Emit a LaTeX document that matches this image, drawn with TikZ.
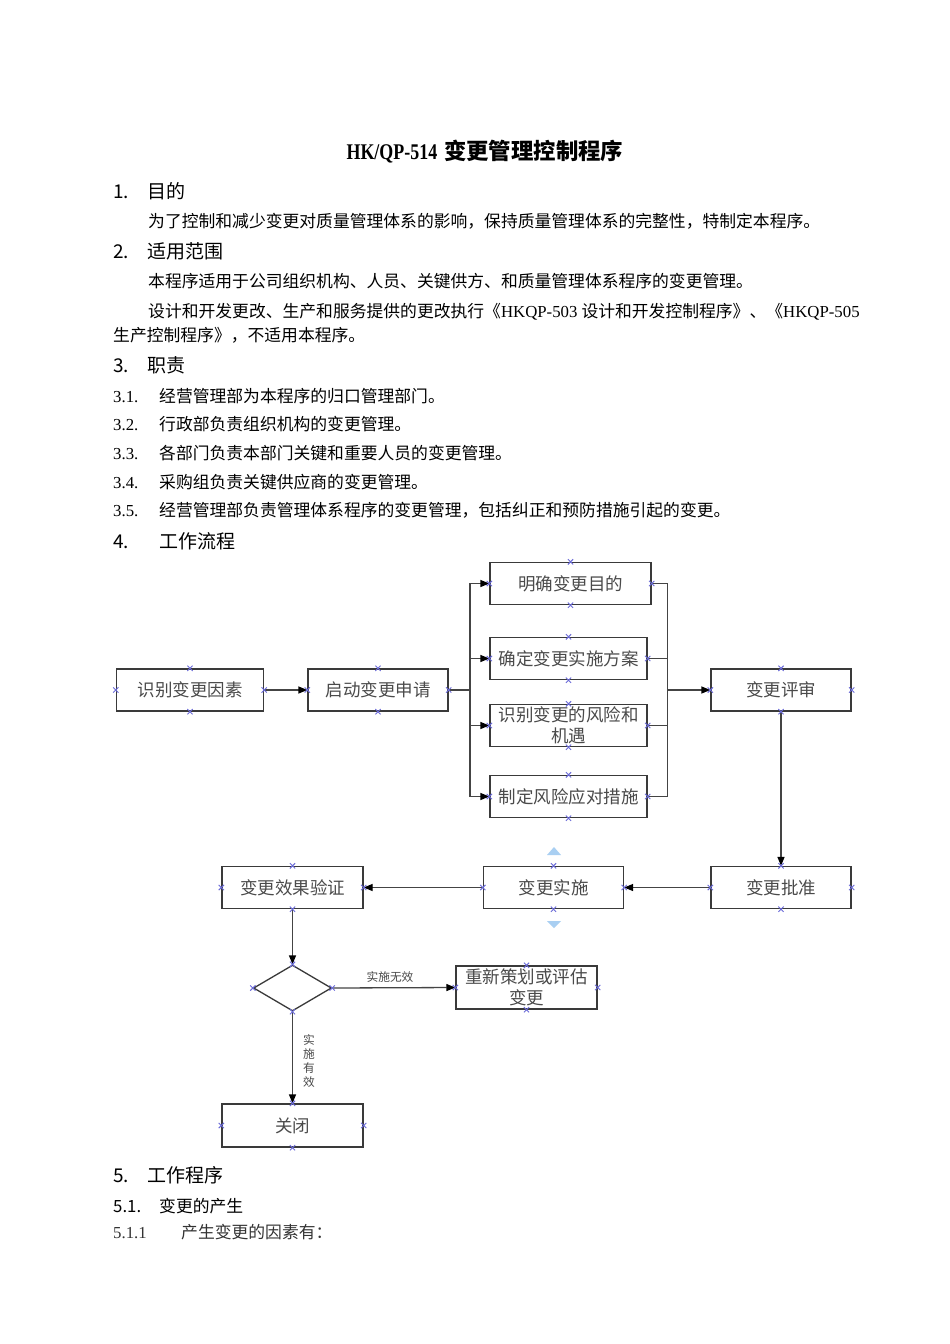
\documentclass[tikz,border=0pt]{standalone}
\usepackage{fontspec}
\setmainfont{Noto Sans CJK SC}
\newfontfamily\latserif{Liberation Serif}
\usetikzlibrary{arrows.meta,shapes.geometric}
\XeTeXlinebreaklocale "zh"
\XeTeXlinebreakskip=0pt plus 1fil
\definecolor{boxline}{HTML}{3A3A3A}
\definecolor{boxtext}{HTML}{4A4A4A}
\definecolor{xblue}{HTML}{6A6AD8}
\definecolor{triblue}{HTML}{A9CFF2}
\definecolor{conn}{HTML}{444444}
\tikzset{
  txt/.style={anchor=west, inner sep=0pt, text height=14pt, text depth=0pt,
    font=\fontsize{16.8}{20}\selectfont},
  hd/.style={anchor=west, inner sep=0pt, text height=16pt, text depth=0pt,
    font=\fontsize{19}{22}\selectfont},
  stepbox/.style={draw=boxline, line width=1.3pt, minimum height=42pt, inner sep=0pt,
    align=center, text=boxtext, font=\fontsize{17.5}{21}\selectfont},
  decis/.style={draw=boxline, line width=1.3pt, diamond, minimum width=78pt,
    minimum height=46pt, inner sep=0pt},
  conline/.style={draw=conn, line width=1.3pt},
  arr/.style={conline, -{Triangle[length=9pt,width=7pt,color=black]}},
  lbl/.style={inner sep=0pt, text=boxtext, font=\fontsize{11.7}{14}\selectfont, align=center},
  xmk/.style={draw=xblue, line width=0.9pt},
  tri/.style={fill=triblue, draw=none}
}
\begin{document}
\begin{tikzpicture}[x=1pt,y=-1pt]
\path[use as bounding box, fill=white] (0,0) rectangle (950,1344);

% ---- text ----
\node[inner sep=0pt, text height=18.8pt, text depth=0pt] (title) at (485,150) {\fontsize{22.4}{26}\selectfont\bfseries\scalebox{0.8}[1]{\latserif HK/QP-514}\hspace{7pt}变更管理控制程序};
\node[hd] (h1n) at (113,190) {1.};
\node[hd] (h1) at (147,190) {目的};
\node[txt] (p1) at (148,220) {为了控制和减少变更对质量管理体系的影响，保持质量管理体系的完整性，特制定本程序。};
\node[hd] (h2n) at (113,250) {2.};
\node[hd] (h2) at (147,250) {适用范围};
\node[txt] (p2) at (148,280) {本程序适用于公司组织机构、人员、关键供方、和质量管理体系程序的变更管理。};
\node[txt] (p3) at (148,310) {\makebox[710pt][s]{设计和开发更改、生产和服务提供的更改执行《{\latserif HKQP-503}\hspace{4pt}设计和开发控制程序》、《{\latserif HKQP-505}}};
\node[txt] (p4) at (113,334) {生产控制程序》，不适用本程序。};
\node[hd] (h3n) at (113,364) {3.};
\node[hd] (h3) at (147,364) {职责};
\node[txt] (r1n) at (113,395) {\latserif 3.1.};
\node[txt] (r1) at (159,395) {经营管理部为本程序的归口管理部门。};
\node[txt] (r2n) at (113,423) {\latserif 3.2.};
\node[txt] (r2) at (159,423) {行政部负责组织机构的变更管理。};
\node[txt] (r3n) at (113,452) {\latserif 3.3.};
\node[txt] (r3) at (159,452) {各部门负责本部门关键和重要人员的变更管理。};
\node[txt] (r4n) at (113,481) {\latserif 3.4.};
\node[txt] (r4) at (159,481) {采购组负责关键供应商的变更管理。};
\node[txt] (r5n) at (113,509) {\latserif 3.5.};
\node[txt] (r5) at (159,509) {经营管理部负责管理体系程序的变更管理，包括纠正和预防措施引起的变更。};
\node[hd] (h4n) at (113,540) {4.};
\node[hd] (h4) at (159,540) {工作流程};
\node[hd] (h5n) at (113,1174) {5.};
\node[hd] (h5) at (147,1174) {工作程序};
\node[txt] (s51n) at (113,1205) {5.1.};
\node[txt] (s51) at (159,1205) {变更的产生};
\node[txt, text=black!80] (s511n) at (113,1231) {\latserif 5.1.1};
\node[txt, text=black!80] (s511) at (181,1231) {产生变更的因素有：};

% ---- flowchart nodes ----
\node[stepbox, minimum width=147pt] (n1) at (190,690) {识别变更因素};
\node[stepbox, minimum width=140pt] (n2) at (378,690) {启动变更申请};
\node[stepbox, minimum width=161pt] (m1) at (570.5,583.5) {明确变更目的};
\node[stepbox, minimum width=157pt] (m2) at (568.5,658.5) {确定变更实施方案};
\node[stepbox, minimum width=157pt] (m3) at (568.5,725.5) {识别变更的风险和\\机遇};
\node[stepbox, minimum width=157pt] (m4) at (568.5,796.5) {制定风险应对措施};
\node[stepbox, minimum width=140pt] (rev) at (781,690) {变更评审};
\node[stepbox, minimum width=140pt] (apr) at (781,887.5) {变更批准};
\node[stepbox, minimum width=140pt] (imp) at (553.5,887.5) {变更实施};
\node[stepbox, minimum width=141pt] (ver) at (292.5,887.5) {变更效果验证};
\node[decis] (dia) at (292.5,988) {};
\node[stepbox, minimum width=141pt, minimum height=43pt] (rep) at (526.5,987.5) {重新策划或评估\\变更};
\node[stepbox, minimum width=141pt, minimum height=43pt] (cls) at (292.5,1125.5) {关闭};

% ---- connectors ----
\coordinate (busL) at (470,690);
\coordinate (busR) at (667.5,690);
\draw[arr] (n1.east) -- (n2.west);
\draw[conline] (n2.east) -- (busL);
\draw[arr] (busL) |- (m1.west);
\draw[arr] (busL) |- (m2.west);
\draw[arr] (busL) |- (m3.west);
\draw[arr] (busL) |- (m4.west);
\draw[conline] (m1.east) -| (busR);
\draw[conline] (m2.east) -| (busR);
\draw[conline] (m3.east) -| (busR);
\draw[conline] (m4.east) -| (busR);
\draw[arr] (busR) -- (rev.west);
\draw[arr] (rev.south) -- (apr.north);
\draw[arr] (apr.west) -- (imp.east);
\draw[arr] (imp.west) -- (ver.east);
\draw[arr] (ver.south) -- (dia.north);
\draw[arr] (dia.east) -- (rep.west);
\draw[arr] (dia.south) -- (cls.north);
\node[lbl] (lno) at (390,977) {实施无效};
\node[lbl] (lyes) at (309,1061) {实\\施\\有\\效};

% ---- selection handles ----
\fill[tri] (547,855) -- (561,855) -- (554,847) -- cycle;
\fill[tri] (547,921) -- (561,921) -- (554,928) -- cycle;

% ---- connection point markers ----
\foreach \nd in {n1,n2,m1,m2,m3,m4,rev,apr,imp,ver,dia,rep,cls}{
  \foreach \an in {north,south,east,west}{
    \draw[xmk] (\nd.\an) +(-2.6,-2.6) -- +(2.6,2.6) +(-2.6,2.6) -- +(2.6,-2.6);
  }
}
\end{tikzpicture}
\end{document}
